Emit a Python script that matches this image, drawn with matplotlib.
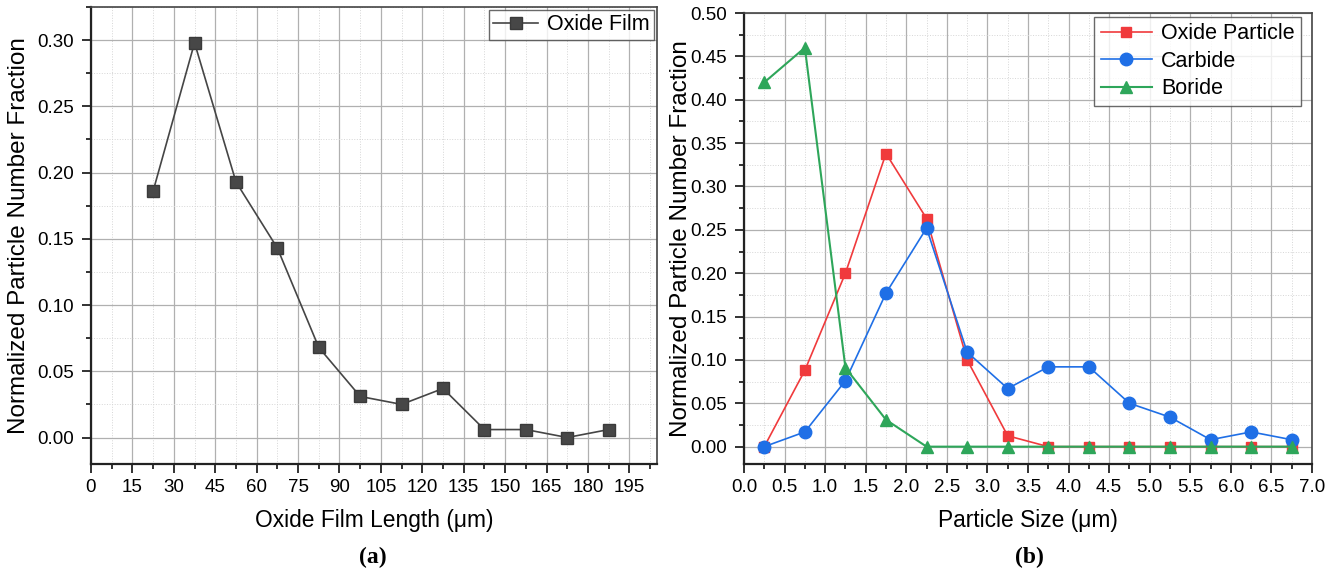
import matplotlib
matplotlib.use("Agg")
import matplotlib.pyplot as plt
from matplotlib.ticker import MultipleLocator, FormatStrFormatter

plt.rcParams['font.family'] = ['Liberation Sans', 'DejaVu Sans']

# panel (a): oxide film length distribution
film_length = [22.5, 37.5, 52.5, 67.5, 82.5, 97.5, 112.5, 127.5, 142.5, 157.5, 172.5, 187.5]
film_fraction = [0.186, 0.298, 0.193, 0.143, 0.068, 0.031, 0.025, 0.037, 0.006, 0.006, 0.0, 0.006]

# panel (b): particle size distributions
particle_size = [0.25, 0.75, 1.25, 1.75, 2.25, 2.75, 3.25, 3.75, 4.25, 4.75, 5.25, 5.75, 6.25, 6.75]
oxide_particle = [0.0, 0.088, 0.200, 0.338, 0.263, 0.100, 0.0125, 0.0, 0.0, 0.0, 0.0, 0.0, 0.0, 0.0]
carbide = [0.0, 0.017, 0.076, 0.177, 0.252, 0.109, 0.067, 0.092, 0.092, 0.050, 0.034, 0.008, 0.017, 0.008]
boride = [0.420, 0.460, 0.091, 0.031, 0.0, 0.0, 0.0, 0.0, 0.0, 0.0, 0.0, 0.0, 0.0, 0.0]

W, H = 1330, 573
fig = plt.figure(figsize=(W / 100, H / 100), dpi=100)
ax_a = fig.add_axes([91 / W, (H - 464) / H, 566 / W, 457 / H])
ax_b = fig.add_axes([744 / W, (H - 464) / H, 568 / W, 451 / H])


def style_axes(ax, xmaj, xmin, ymaj, ymin):
    ax.xaxis.set_major_locator(MultipleLocator(xmaj))
    ax.xaxis.set_minor_locator(MultipleLocator(xmin))
    ax.yaxis.set_major_locator(MultipleLocator(ymaj))
    ax.yaxis.set_minor_locator(MultipleLocator(ymin))
    ax.yaxis.set_major_formatter(FormatStrFormatter('%.2f'))
    ax.grid(True, which='major', color='#b0b0b0', linewidth=0.9, linestyle='-')
    ax.grid(True, which='minor', color='#d6d6d6', linewidth=0.7, linestyle=':')
    ax.set_axisbelow(True)
    ax.tick_params(which='both', direction='out', top=False, right=False,
                   labelsize=13.5, width=1.3, colors='#222222', labelcolor='black')
    ax.tick_params(which='major', length=6.5)
    ax.tick_params(which='minor', length=3.6)
    ax.tick_params(axis='x', which='major', pad=4)
    ax.tick_params(axis='y', which='major', pad=5.5)
    for side in ['left', 'bottom']:
        ax.spines[side].set_linewidth(1.6)
        ax.spines[side].set_color('#222222')
    for side in ['top', 'right']:
        ax.spines[side].set_linewidth(1.2)
        ax.spines[side].set_color('#444444')


# (a)
ax_a.plot(film_length, film_fraction, color='#454545', linewidth=1.2, marker='s',
          markersize=8, markerfacecolor='#474747', markeredgecolor='#3a3a3a', label='Oxide Film')
ax_a.set_xlim(0, 205)
ax_a.set_ylim(-0.02, 0.325)
style_axes(ax_a, 15, 7.5, 0.05, 0.025)
ax_a.set_xlabel('Oxide Film Length (μm)', fontsize=16.4)
ax_a.set_ylabel('Normalized Particle Number Fraction', fontsize=17.5)
ax_a.xaxis.set_label_coords(0.5, -(509 - 464) / 457)
ax_a.yaxis.set_label_coords((30 - 91) / 566, 0.5)
leg_a = ax_a.legend(loc='upper right', bbox_to_anchor=(1 - 3 / 566, 1 - 3 / 457),
                    borderaxespad=0, fontsize=15.5, handlelength=2.1, fancybox=False,
                    borderpad=0.2, handletextpad=0.4)
leg_a.get_frame().set_edgecolor('#444444')
leg_a.get_frame().set_linewidth(1.0)

# (b)
ax_b.plot(particle_size, oxide_particle, color='#f03a3c', linewidth=1.2, marker='s',
          markersize=7.5, label='Oxide Particle')
ax_b.plot(particle_size, carbide, color='#1f6fe6', linewidth=1.2, marker='o',
          markersize=9, label='Carbide')
ax_b.plot(particle_size, boride, color='#2ea65a', linewidth=1.5, marker='^',
          markersize=9, label='Boride')
ax_b.set_xlim(0, 7.0)
ax_b.set_ylim(-0.02, 0.50)
style_axes(ax_b, 0.5, 0.25, 0.05, 0.025)
ax_b.xaxis.set_major_formatter(FormatStrFormatter('%.1f'))
ax_b.set_xlabel('Particle Size (μm)', fontsize=16.4)
ax_b.set_ylabel('Normalized Particle Number Fraction', fontsize=17.5)
ax_b.xaxis.set_label_coords(0.5, -(509 - 464) / 451)
ax_b.yaxis.set_label_coords((692 - 744) / 568, 0.5)
leg_b = ax_b.legend(loc='upper right', bbox_to_anchor=(1 - 11 / 568, 1 - 4 / 451),
                    borderaxespad=0, fontsize=15.5, handlelength=2.4, fancybox=False,
                    borderpad=0.3, labelspacing=0.3, handletextpad=0.4)
leg_b.get_frame().set_edgecolor('#444444')
leg_b.get_frame().set_linewidth(1.0)

fig.text(373 / W, 1 - 557 / H, '(a)', ha='center', va='center', fontsize=17,
         fontweight='bold', family='Liberation Serif')
fig.text(1029 / W, 1 - 557 / H, '(b)', ha='center', va='center', fontsize=17,
         fontweight='bold', family='Liberation Serif')

fig.savefig('out.png', dpi=100)
